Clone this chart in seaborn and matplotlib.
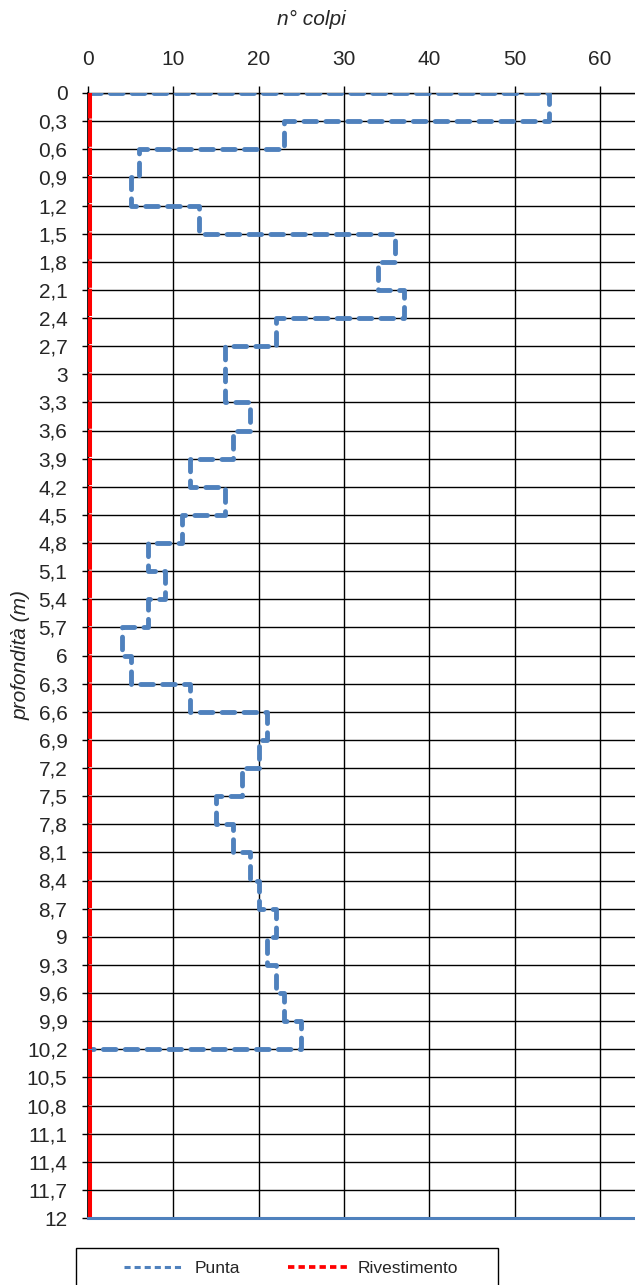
import matplotlib
matplotlib.use("Agg")
import matplotlib.pyplot as plt
from matplotlib.lines import Line2D
from matplotlib.patches import Rectangle
import seaborn as sns
import pandas as pd

# top of each 0.3 m interval and blow count measured there
depth_top = [0.0, 0.3, 0.6, 0.9, 1.2, 1.5, 1.8, 2.1, 2.4, 2.7, 3.0, 3.3,
             3.6, 3.9, 4.2, 4.5, 4.8, 5.1, 5.4, 5.7, 6.0, 6.3, 6.6, 6.9,
             7.2, 7.5, 7.8, 8.1, 8.4, 8.7, 9.0, 9.3, 9.6, 9.9]
punta = [54, 23, 6, 5, 13, 36, 34, 37, 22, 16, 16, 19,
         17, 12, 16, 11, 7, 9, 7, 4, 5, 12, 21, 20,
         18, 15, 17, 19, 20, 22, 21, 22, 23, 25]
end_depth = 10.2

# casing (rivestimento) - always zero
riv_depth = [0.0, 12.0]
rivestimento = [0, 0]

depth_ticks = [0.0, 0.3, 0.6, 0.9, 1.2, 1.5, 1.8, 2.1, 2.4, 2.7, 3.0, 3.3,
               3.6, 3.9, 4.2, 4.5, 4.8, 5.1, 5.4, 5.7, 6.0, 6.3, 6.6, 6.9,
               7.2, 7.5, 7.8, 8.1, 8.4, 8.7, 9.0, 9.3, 9.6, 9.9, 10.2, 10.5,
               10.8, 11.1, 11.4, 11.7, 12.0]
depth_labels = ["0", "0,3", "0,6", "0,9", "1,2", "1,5", "1,8", "2,1", "2,4",
                "2,7", "3", "3,3", "3,6", "3,9", "4,2", "4,5", "4,8", "5,1",
                "5,4", "5,7", "6", "6,3", "6,6", "6,9", "7,2", "7,5", "7,8",
                "8,1", "8,4", "8,7", "9", "9,3", "9,6", "9,9", "10,2", "10,5",
                "10,8", "11,1", "11,4", "11,7", "12"]
colpi_ticks = [0, 10, 20, 30, 40, 50, 60]

blue = "#4F81BD"
red = "#FF0000"

sns.set_theme(style="white")
plt.rcParams["font.family"] = ["Liberation Sans", "DejaVu Sans"]

fig = plt.figure(figsize=(6.35, 12.85), dpi=100)
ax = fig.add_axes([88 / 635, 1 - 1218 / 1285, (635 - 88) / 635, (1218 - 93) / 1285])

# step path: start at 0, go across at each interval top, end back at 0
df = pd.DataFrame({
    "colpi": [0] + punta + [0],
    "depth": [0.0] + depth_top + [end_depth],
})
sns.lineplot(data=df, x="colpi", y="depth", sort=False, estimator=None,
             drawstyle="steps-pre", color=blue, lw=3.5,
             linestyle=(0, (2.6, 1.9)), dash_capstyle="round", ax=ax, zorder=3)

# casing line sits on the axis, half of it is clipped away
df_riv = pd.DataFrame({"colpi": rivestimento, "depth": riv_depth})
sns.lineplot(data=df_riv, x="colpi", y="depth", sort=False, estimator=None,
             color=red, lw=5.8, linestyle=(0.2, (3.38, 0.12)), ax=ax, zorder=4)

ax.set_xlim(0, 64.1)
ax.set_ylim(12, 0)
ax.xaxis.tick_top()
ax.set_xticks(colpi_ticks)
ax.set_yticks(depth_ticks)
ax.set_yticklabels(depth_labels)
ax.tick_params(axis="x", top=True, bottom=False, length=5, width=1,
               color="black", pad=12, labelsize=15)
ax.tick_params(axis="y", left=True, length=4.3, width=1, color="black",
               pad=10.5, labelsize=15)
ax.set_xlabel("")
ax.set_ylabel("profondità (m)", style="italic", fontsize=15)
ax.yaxis.set_label_coords(-0.105, 0.5)

ax.grid(True, color="black", lw=1.0)
ax.set_axisbelow(True)
ax.spines["right"].set_visible(False)
ax.spines["top"].set_color("black")
ax.spines["top"].set_linewidth(1.0)
ax.spines["left"].set_color("black")
ax.spines["bottom"].set_color(blue)
ax.spines["bottom"].set_linewidth(2.2)
ax.spines["bottom"].set_zorder(5)

fig.text(311 / 635, 1 - 19 / 1285, "n° colpi", style="italic",
         fontsize=15, ha="center", va="center")

# legend box runs past the bottom edge like in the original
fig.add_artist(Rectangle((75.5 / 635, -0.01), (498 - 75.5) / 635,
                         0.01 + (1285 - 1248) / 1285, transform=fig.transFigure,
                         fill=False, edgecolor="black", lw=1.0))
handles = [
    Line2D([], [], color=blue, lw=2.2, linestyle=(0, (2.0, 1.3))),
    Line2D([], [], color=red, lw=2.7, linestyle=(0, (1.7, 1.1))),
]
fig.legend(handles, ["Punta", "Rivestimento"], loc="center",
           bbox_to_anchor=(291.5 / 635, 1 - 1268 / 1285), ncol=2, frameon=False,
           fontsize=12.5, handlelength=3.45, handletextpad=0.57,
           columnspacing=2.8, borderpad=0)

fig.savefig("out.png", dpi=100)
